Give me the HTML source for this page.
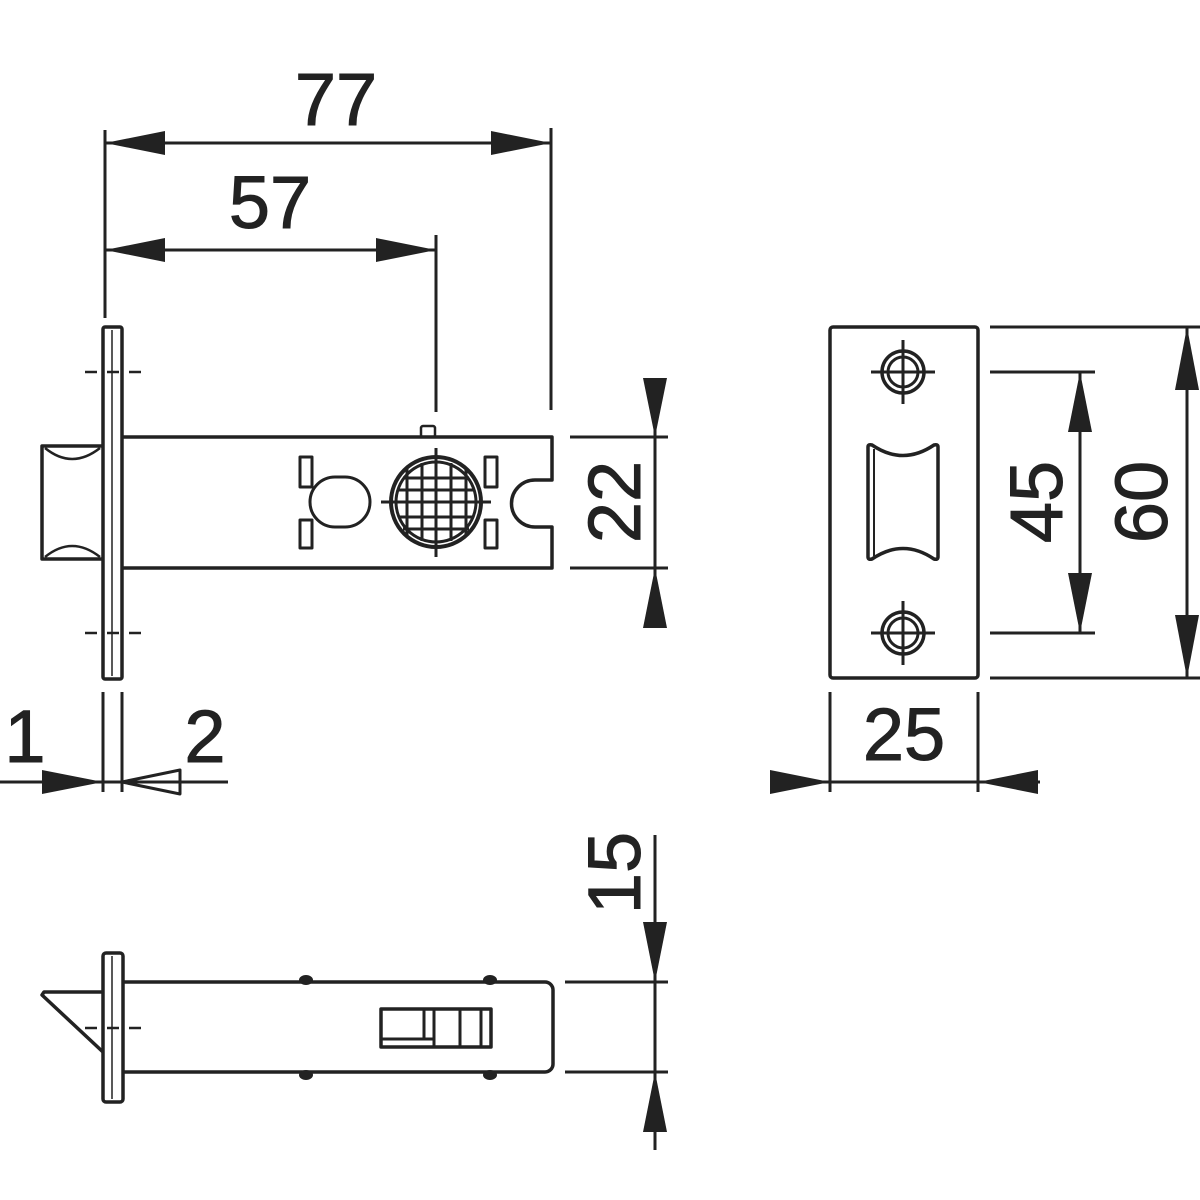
<!DOCTYPE html>
<html><head><meta charset="utf-8"><style>
html,body{margin:0;padding:0;background:#fff;}
svg{display:block;}
text{font-family:"Liberation Sans",sans-serif;font-size:74px;fill:#222;stroke:#222;stroke-width:1;}
</style></head><body>
<svg width="1200" height="1200" viewBox="0 0 1200 1200" xmlns="http://www.w3.org/2000/svg">
<g fill="none" stroke="#222" stroke-width="3.5" stroke-linejoin="round">
<!-- TOP VIEW -->
<rect x="103" y="327" width="19" height="352" rx="2"/>
<line x1="112" y1="330" x2="112" y2="676" stroke-width="1.5"/>
<path d="M122,437 H552 V480 H535 A23,23 0 0 0 535,527 H552 V568 H122"/>
<path d="M103,446 H42 V559 H103"/>
<path d="M45,448 Q72,470 100,448" stroke-width="2.5"/>
<path d="M45,557 Q72,535 100,557" stroke-width="2.5"/>
<rect x="421" y="426" width="14" height="11" rx="2" stroke-width="2.5"/>
<g stroke-width="3">
<rect x="300" y="457" width="12" height="30"/>
<rect x="300" y="520" width="12" height="28"/>
<rect x="485" y="457" width="12" height="30"/>
<rect x="485" y="520" width="12" height="28"/>
<rect x="310" y="477" width="60" height="50" rx="25"/>
</g>
<circle cx="436" cy="502" r="45" stroke-width="4"/>
<circle cx="436" cy="502" r="40" stroke-width="3"/>
<g stroke-width="3">
<line x1="381" y1="502" x2="491" y2="502"/>
<line x1="436" y1="448" x2="436" y2="557"/>
<line x1="407" y1="469" x2="407" y2="535"/>
<line x1="422" y1="463" x2="422" y2="541"/>
<line x1="451" y1="463" x2="451" y2="541"/>
<line x1="466" y1="469" x2="466" y2="535"/>
<line x1="403" y1="478" x2="469" y2="478"/>
<line x1="398" y1="490" x2="474" y2="490"/>
<line x1="398" y1="517" x2="474" y2="517"/>
<line x1="403" y1="529" x2="469" y2="529"/>
</g>
<g stroke-width="2.5" stroke-dasharray="12,10">
<line x1="85" y1="372" x2="148" y2="372"/>
<line x1="85" y1="633" x2="148" y2="633"/>
<line x1="85" y1="1028" x2="148" y2="1028"/>
</g>
<g stroke-width="3">
<line x1="105" y1="130" x2="105" y2="318"/>
<line x1="551" y1="128" x2="551" y2="410"/>
<line x1="436" y1="235" x2="436" y2="412"/>
<line x1="105" y1="143" x2="551" y2="143"/>
<line x1="105" y1="250" x2="436" y2="250"/>
<line x1="570" y1="437" x2="668" y2="437"/>
<line x1="570" y1="568" x2="668" y2="568"/>
<line x1="655" y1="378" x2="655" y2="628"/>
<line x1="103" y1="692" x2="103" y2="792"/>
<line x1="122" y1="692" x2="122" y2="792"/>
<line x1="0" y1="782" x2="228" y2="782"/>
<path d="M180,770 L122,782 L180,794 Z"/>
</g>
<!-- STRIKE -->
<rect x="830" y="327" width="148" height="351" rx="3"/>
<g stroke-width="3">
<circle cx="903" cy="372" r="21" stroke-width="3.5"/><circle cx="903" cy="372" r="15"/>
<line x1="871" y1="372" x2="935" y2="372"/><line x1="903" y1="340" x2="903" y2="404"/>
<circle cx="903" cy="633" r="21" stroke-width="3.5"/><circle cx="903" cy="633" r="15"/>
<line x1="871" y1="633" x2="935" y2="633"/><line x1="903" y1="601" x2="903" y2="665"/>
</g>
<path d="M868,447 Q868,444 872,445 Q903,466 934,445 Q938,444 938,447 V557 Q938,560 934,559 Q903,538 872,559 Q868,560 868,557 Z"/>
<line x1="874" y1="449" x2="874" y2="556" stroke-width="2"/>
<g stroke-width="3">
<line x1="990" y1="372" x2="1095" y2="372"/>
<line x1="990" y1="633" x2="1095" y2="633"/>
<line x1="1080" y1="372" x2="1080" y2="633"/>
<line x1="990" y1="327" x2="1200" y2="327"/>
<line x1="990" y1="678" x2="1200" y2="678"/>
<line x1="1187" y1="327" x2="1187" y2="678"/>
<line x1="830" y1="692" x2="830" y2="792"/>
<line x1="978" y1="692" x2="978" y2="792"/>
<line x1="770" y1="782" x2="1040" y2="782"/>
</g>
<!-- BOTTOM VIEW -->
<rect x="103" y="953" width="20" height="149" rx="3"/>
<line x1="112" y1="956" x2="112" y2="1099" stroke-width="1.5"/>
<path d="M123,982 H545 A8,8 0 0 1 553,990 V1064 A8,8 0 0 1 545,1072 H123"/>
<path d="M103,992 H44 L42,995 L103,1052"/>
<g fill="#222" stroke="none">
<ellipse cx="306" cy="980" rx="7" ry="5"/><ellipse cx="490" cy="980" rx="7" ry="5"/>
<ellipse cx="306" cy="1075" rx="7" ry="5"/><ellipse cx="490" cy="1075" rx="7" ry="5"/>
</g>
<rect x="381" y="1009" width="110" height="38" stroke-width="3.5"/>
<g stroke-width="3">
<line x1="424" y1="1009" x2="424" y2="1039"/><line x1="434" y1="1009" x2="434" y2="1047"/>
<line x1="460" y1="1009" x2="460" y2="1047"/><line x1="481" y1="1009" x2="481" y2="1047"/>
<line x1="381" y1="1039" x2="434" y2="1039"/>
<line x1="565" y1="982" x2="668" y2="982"/>
<line x1="565" y1="1072" x2="668" y2="1072"/>
<line x1="655" y1="835" x2="655" y2="1150"/>
</g>
</g>
<g fill="#222">
<path d="M105,143 L165,131 L165,155 Z"/>
<path d="M551,143 L491,131 L491,155 Z"/>
<path d="M105,250 L165,238 L165,262 Z"/>
<path d="M436,250 L376,238 L376,262 Z"/>
<path d="M655,437 L643,378 L667,378 Z"/>
<path d="M655,568 L643,628 L667,628 Z"/>
<path d="M103,782 L42,770 L42,794 Z"/>
<path d="M1080,372 L1068,432 L1092,432 Z"/>
<path d="M1080,633 L1068,573 L1092,573 Z"/>
<path d="M1187,327 L1175,390 L1199,390 Z"/>
<path d="M1187,678 L1175,615 L1199,615 Z"/>
<path d="M830,782 L770,770 L770,794 Z"/>
<path d="M978,782 L1038,770 L1038,794 Z"/>
<path d="M655,982 L643,922 L667,922 Z"/>
<path d="M655,1072 L643,1132 L667,1132 Z"/>
</g>
<text x="336" y="125" text-anchor="middle">77</text>
<text x="270" y="228" text-anchor="middle">57</text>
<text x="25" y="762" text-anchor="middle">1</text>
<text x="205" y="762" text-anchor="middle">2</text>
<text x="904" y="760" text-anchor="middle">25</text>
<text transform="translate(640,502) rotate(-90)" text-anchor="middle">22</text>
<text transform="translate(1062,502) rotate(-90)" text-anchor="middle">45</text>
<text transform="translate(1167,502) rotate(-90)" text-anchor="middle">60</text>
<text transform="translate(640,873) rotate(-90)" text-anchor="middle">15</text>
</svg>
</body></html>
